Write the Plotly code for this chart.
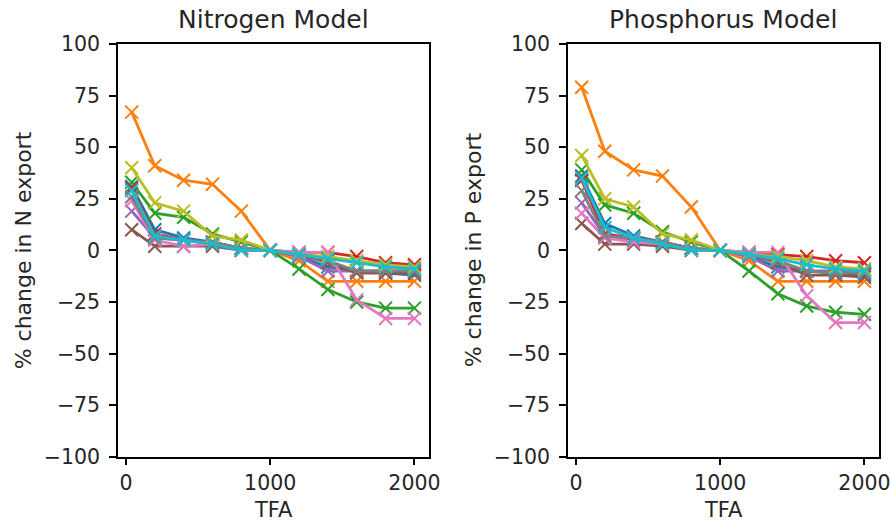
import plotly.graph_objects as go
from plotly.subplots import make_subplots

tfa = [40, 200, 400, 600, 800, 1000, 1200, 1400, 1600, 1800, 2000]

colors = ["#1f77b4", "#ff7f0e", "#2ca02c", "#d62728", "#9467bd",
          "#8c564b", "#e377c2", "#7f7f7f", "#bcbd22", "#17becf"]

n_blue   = [31, 10, 6, 4, 1, 0, -3, -8, -10, -11, -12]
n_orange = [67, 41, 34, 32, 19, 0, -5, -15, -15, -15, -15]
n_green  = [33, 18, 16, 8, 4, 0, -9, -19, -25, -28, -28]
n_red    = [30, 8, 5, 4, 1, 0, -1, -1, -3, -6, -7]
n_purple = [19, 6, 5, 3, 1, 0, -3, -10, -10, -10, -10]
n_brown  = [10, 2, 2, 2, 0, 0, -2, -6, -11, -11, -11]
n_pink   = [24, 5, 2, 3, 1, 0, -1, -1, -24, -33, -33]
n_gray   = [26, 6, 5, 4, 1, 0, -2, -5, -10, -10, -10]
n_olive  = [40, 23, 19, 7, 5, 0, -2, -3, -5, -7, -8]
n_cyan   = [29, 7, 5, 3, 0, 0, -2, -4, -6, -8, -9]

p_blue   = [36, 13, 7, 4, 1, 0, -3, -8, -10, -11, -12]
p_orange = [79, 48, 39, 36, 21, 0, -5, -15, -15, -15, -15]
p_green  = [39, 22, 18, 9, 4, 0, -10, -21, -27, -30, -31]
p_red    = [34, 8, 6, 4, 1, 0, -1, -2, -3, -5, -6]
p_purple = [23, 7, 5, 4, 1, 0, -3, -10, -10, -10, -11]
p_brown  = [13, 3, 3, 2, 0, 0, -2, -6, -12, -12, -13]
p_pink   = [18, 6, 4, 3, 1, 0, -1, -1, -22, -35, -35]
p_gray   = [29, 7, 6, 4, 1, 0, -2, -5, -10, -11, -11]
p_olive  = [46, 25, 21, 8, 5, 0, -2, -3, -5, -8, -9]
p_cyan   = [35, 11, 6, 3, 0, 0, -2, -4, -7, -9, -10]

nitrogen = [n_blue, n_orange, n_green, n_red, n_purple, n_brown, n_pink, n_gray, n_olive, n_cyan]
phosphorus = [p_blue, p_orange, p_green, p_red, p_purple, p_brown, p_pink, p_gray, p_olive, p_cyan]

titles = ["Nitrogen Model", "Phosphorus Model"]
ylabels = ["% change in N export", "% change in P export"]
xlabel = "TFA"
yticks = [100, 75, 50, 25, 0, -25, -50, -75, -100]
ytext = [str(v).replace("-", "\u2212") for v in yticks]
xticks = [0, 1000, 2000]

W, H = 891, 523
fig = make_subplots(rows=1, cols=2)
font = "DejaVu Sans"
txtc = "#262626"

for col, data in enumerate([nitrogen, phosphorus], start=1):
    for series, c in zip(data, colors):
        fig.add_trace(go.Scatter(
            x=tfa, y=series, mode="lines+markers",
            line=dict(color=c, width=2.8),
            marker=dict(symbol="x-thin", size=13, color=c,
                        line=dict(color=c, width=2)),
            showlegend=False), row=1, col=col)

axis_common = dict(showgrid=False, zeroline=False, showline=True, mirror=True,
                   linecolor="black", linewidth=1.5, ticks="outside", ticklen=7,
                   tickcolor="black", tickwidth=1.5, automargin=False,
                   tickfont=dict(family=font, size=20.5, color=txtc))

dom_x = [[118 / W, 429 / W], [568 / W, 879 / W]]
dom_y = [66.3 / H, 479 / H]
for i in range(2):
    fig.update_xaxes(axis_common, domain=dom_x[i], range=[-55, 2101],
                     tickvals=xticks, ticktext=[str(v) for v in xticks],
                     ticklabelstandoff=0,
                     row=1, col=i + 1)
    fig.update_yaxes(axis_common, domain=dom_y, range=[-100, 100],
                     tickvals=yticks, ticktext=ytext,
                     ticklabelstandoff=5,
                     row=1, col=i + 1)

for i in range(2):
    cx = (dom_x[i][0] + dom_x[i][1]) / 2
    fig.add_annotation(text=titles[i], x=cx, y=1 - 19.5 / H, xref="paper", yref="paper",
                       showarrow=False, xanchor="center", yanchor="middle",
                       font=dict(family=font, size=25, color=txtc))
    fig.add_annotation(text=xlabel, x=cx, y=1 - 510 / H, xref="paper", yref="paper",
                       showarrow=False, xanchor="center", yanchor="middle",
                       font=dict(family=font, size=21, color=txtc))
    ylx = (23 if i == 0 else 473) / W
    fig.add_annotation(text=ylabels[i], x=ylx, y=(dom_y[0] + dom_y[1]) / 2,
                       xref="paper", yref="paper", textangle=-90,
                       showarrow=False, xanchor="center", yanchor="middle",
                       font=dict(family=font, size=22, color=txtc))

fig.update_layout(width=W, height=H, margin=dict(l=0, r=0, t=0, b=0),
                  plot_bgcolor="white", paper_bgcolor="white")

fig.write_html("out.html")
